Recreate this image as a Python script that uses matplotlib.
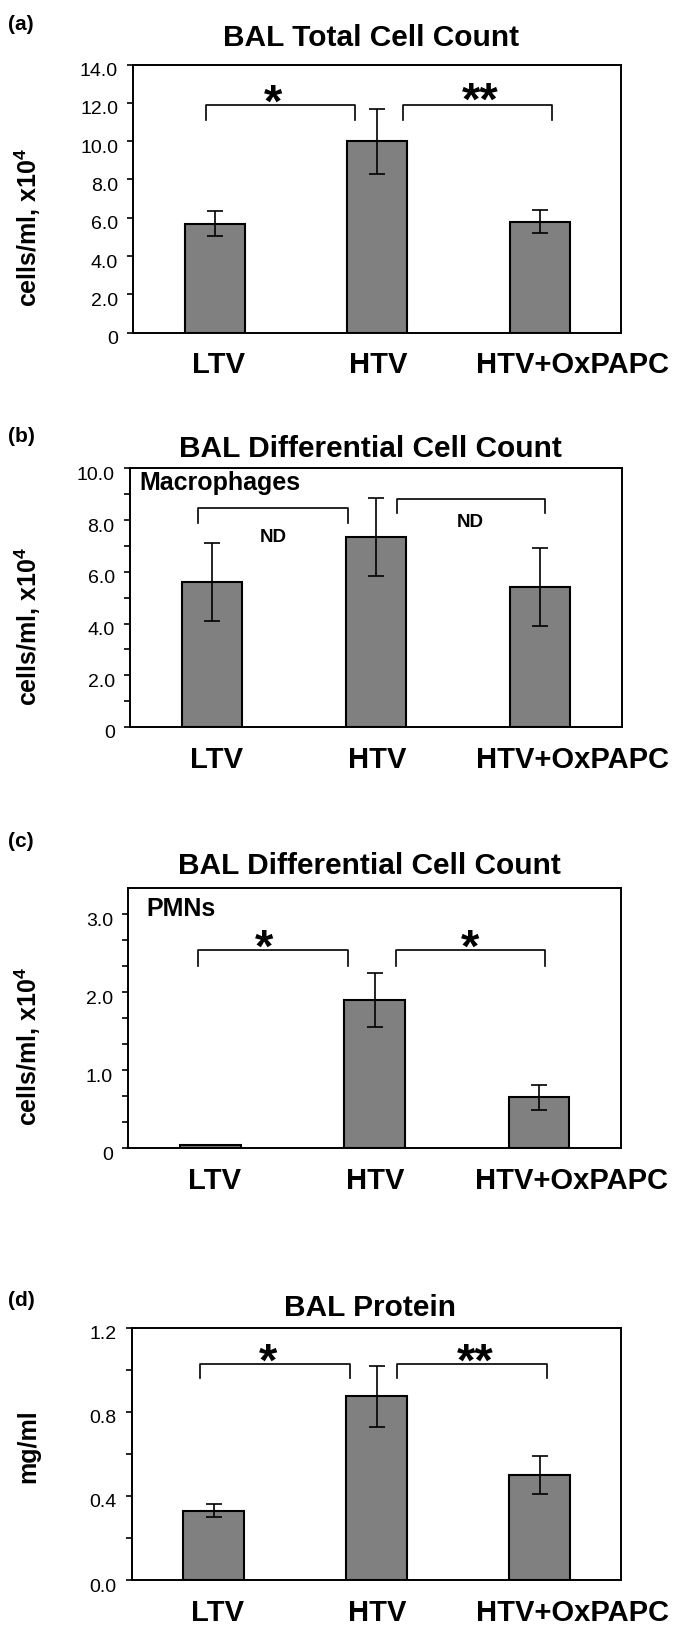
import numpy as np
import matplotlib
matplotlib.use('Agg')
import matplotlib.pyplot as plt
from matplotlib import transforms

plt.rcParams['font.family'] = 'Liberation Sans'
plt.rcParams['mathtext.fontset'] = 'custom'
plt.rcParams['mathtext.rm'] = 'Liberation Sans:bold'
plt.rcParams['mathtext.it'] = 'Liberation Sans:bold'
plt.rcParams['mathtext.bf'] = 'Liberation Sans:bold'

# data
categories = ['LTV', 'HTV', 'HTV+OxPAPC']

total_mean = [5.7, 10.0, 5.8]
total_err = [0.65, 1.7, 0.6]

macro_mean = [5.6, 7.35, 5.4]
macro_err = [1.5, 1.5, 1.5]

pmn_mean = [0.04, 1.9, 0.65]
pmn_err = [0.0, 0.35, 0.16]

protein_mean = [0.33, 0.875, 0.5]
protein_err = [0.03, 0.145, 0.09]

W, H = 685, 1638
fig = plt.figure(figsize=(W / 100, H / 100), dpi=100)


def fx(x):
    return x / W


def fy(y):
    return 1 - y / H


def panel(box, means, errs, ylim, major, major_labels, minor,
          tag, tag_y, title, title_x, title_y, ylabel, ylabel_y,
          brackets, marks, note=None):
    l, r, t, b = box
    ax = fig.add_axes([fx(l), fy(b), (r - l) / W, (b - t) / H])
    x = np.arange(len(categories))
    ax.bar(x, means, width=0.37, color='#808080', edgecolor='black',
           linewidth=1.5, zorder=2)
    ax.errorbar(x, means, yerr=errs, fmt='none', ecolor='black',
                elinewidth=1.2, capsize=5.5, capthick=1.2, zorder=3)
    ax.set_xlim(-0.5, 2.5)
    ax.set_ylim(*ylim)
    ax.set_yticks(major)
    ax.set_yticklabels(major_labels)
    ax.set_yticks(minor, minor=True)
    ax.tick_params(axis='y', which='both', direction='out', length=4,
                   width=1.2, labelsize=14, pad=7)
    ax.set_xticks(x)
    ax.set_xticklabels(categories, fontsize=21, fontweight='bold')
    ax.tick_params(axis='x', length=0, pad=13.5)
    for s in ax.spines.values():
        s.set_linewidth(1.4)

    # small shifts of the tick texts, as in the original
    for lbl in ax.get_yticklabels():
        lbl.set_transform(lbl.get_transform() +
                          transforms.ScaledTranslation(0, -0.05, fig.dpi_scale_trans))
    for lbl, dx in zip(ax.get_xticklabels(), [4, 1, 33]):
        lbl.set_transform(lbl.get_transform() +
                          transforms.ScaledTranslation(dx / 100, 0, fig.dpi_scale_trans))

    for x0, x1, ytop, ybot in brackets:
        ax.plot([x0, x0, x1, x1], [ybot, ytop, ytop, ybot], color='black',
                lw=1.2, zorder=4)

    for txt, mx, my in marks:
        if txt.startswith('*'):
            tr = transforms.offset_copy(ax.transData, fig=fig, y=-19.5, units='points')
            ax.text(mx, my, txt, transform=tr, ha='center', va='baseline',
                    fontsize=34, fontweight='bold')
        else:
            ax.text(mx, my, txt, ha='center', va='baseline', fontsize=13.5,
                    fontweight='bold')

    if note is not None:
        ax.text(note[1], note[2], note[0], transform=ax.transAxes,
                ha='left', va='baseline', fontsize=18, fontweight='bold')

    fig.text(fx(8), fy(tag_y), tag, ha='left', va='center', fontsize=15,
             fontweight='bold')
    fig.text(fx(title_x), fy(title_y), title, ha='center', va='baseline',
             fontsize=21.5, fontweight='bold')
    fig.text(fx(28), fy(ylabel_y), ylabel, rotation=90, ha='center',
             va='center', fontsize=18, fontweight='bold')
    return ax


cells_label = 'cells/ml, x10$^4$'

# (a)
panel((133.3, 621, 64.5, 332.7), total_mean, total_err, (0, 14),
      [0, 2, 4, 6, 8, 10, 12, 14],
      ['0', '2.0', '4.0', '6.0', '8.0', '10.0', '12.0', '14.0'], [],
      '(a)', 25, 'BAL Total Cell Count', 371, 45.7, cells_label, 227.5,
      [(-0.055, 0.864, 11.87, 11.12), (1.157, 2.077, 11.87, 11.12)],
      [('*', 0.361, 12.69), ('**', 1.633, 12.78)])

# (b)
panel((130, 622, 468.3, 727), macro_mean, macro_err, (0, 10),
      [0, 2, 4, 6, 8, 10], ['0', '2.0', '4.0', '6.0', '8.0', '10.0'],
      [1, 3, 5, 7, 9],
      '(b)', 436.7, 'BAL Differential Cell Count', 370, 457.4, cells_label, 626,
      [(-0.084, 0.827, 8.45, 7.87), (1.125, 2.033, 8.80, 8.26)],
      [('ND', 0.373, 7.16), ('ND', 1.572, 7.72)],
      note=('Macrophages', 0.02, 0.916))

# (c)
panel((128.3, 621, 888.3, 1148), pmn_mean, pmn_err, (0, 3.33),
      [0, 1, 2, 3], ['0', '1.0', '2.0', '3.0'],
      [1 / 3, 2 / 3, 4 / 3, 5 / 3, 7 / 3, 8 / 3],
      '(c)', 841.7, 'BAL Differential Cell Count', 369, 874, cells_label, 1046,
      [(-0.077, 0.836, 2.535, 2.34), (1.132, 2.035, 2.535, 2.34)],
      [('*', 0.327, 2.74), ('*', 1.584, 2.74)],
      note=('PMNs', 0.037, 0.893))

# (d)
panel((132, 621, 1327.7, 1580), protein_mean, protein_err, (0, 1.2),
      [0, 0.4, 0.8, 1.2], ['0.0', '0.4', '0.8', '1.2'], [0.2, 0.6, 1.0],
      '(d)', 1301, 'BAL Protein', 370, 1315.7, 'mg/ml', 1446,
      [(-0.08, 0.835, 1.027, 0.959), (1.126, 2.044, 1.027, 0.959)],
      [('*', 0.337, 1.10), ('**', 1.603, 1.10)])

fig.savefig('out.png', dpi=100)
